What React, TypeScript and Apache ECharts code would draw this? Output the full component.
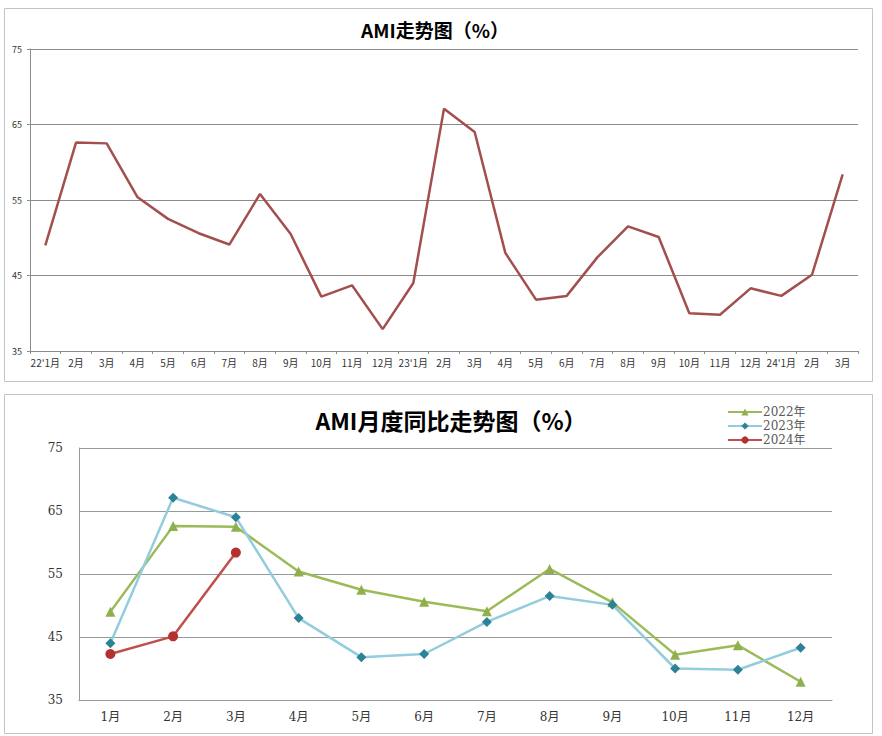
import React, { useEffect, useRef } from "react";
import * as echarts from "echarts";

const topTitle = "AMI走势图（%）";
const bottomTitle = "AMI月度同比走势图（%）";

const topCategories = [
  "22'1月", "2月", "3月", "4月", "5月", "6月", "7月", "8月", "9月", "10月", "11月", "12月",
  "23'1月", "2月", "3月", "4月", "5月", "6月", "7月", "8月", "9月", "10月", "11月", "12月",
  "24'1月", "2月", "3月",
];
const monthCategories = ["1月", "2月", "3月", "4月", "5月", "6月", "7月", "8月", "9月", "10月", "11月", "12月"];

const seriesNames = ["2022年", "2023年", "2024年"];
const v2022 = [49.0, 62.6, 62.5, 55.4, 52.5, 50.6, 49.1, 55.8, 50.5, 42.2, 43.7, 37.9];
const v2023 = [44.0, 67.1, 64.0, 48.0, 41.8, 42.3, 47.4, 51.5, 50.1, 40.0, 39.8, 43.3];
const v2024 = [42.3, 45.1, 58.4];
const topValues = [...v2022, ...v2023, ...v2024];

const yMin = 35;
const yMax = 75;
const yStep = 10;

export default function App() {
  const ref = useRef<HTMLDivElement>(null);
  useEffect(() => {
    if (!ref.current) return;
    const chart = echarts.init(ref.current, null, { renderer: "svg" });
    const sans = "'Noto Sans CJK SC', 'DejaVu Sans', sans-serif";
    const serif = "'DejaVu Serif', 'Liberation Serif', 'Noto Sans CJK SC', serif";
    const gridColor = "#8c8c8c";
    chart.setOption({
      animation: false,
      backgroundColor: "#ffffff",
      graphic: [
        { type: "rect", shape: { x: 4.5, y: 8.5, width: 868, height: 373 }, style: { fill: "none", stroke: "#c4c4c4", lineWidth: 1 } },
        { type: "rect", shape: { x: 4.5, y: 394.5, width: 868, height: 339 }, style: { fill: "none", stroke: "#c4c4c4", lineWidth: 1 } },
        { type: "text", x: 435, y: 29, style: { text: topTitle, align: "center", verticalAlign: "middle", fontSize: 19, fontWeight: "bold", fontFamily: sans, fill: "#000" } },
        { type: "text", x: 451, y: 420, style: { text: bottomTitle, align: "center", verticalAlign: "middle", fontSize: 23, fontWeight: "bold", fontFamily: sans, fill: "#000" } },
      ],
      legend: {
        orient: "vertical",
        left: 722,
        top: 401,
        itemWidth: 34,
        itemHeight: 9,
        itemGap: 2,
        data: seriesNames,
        textStyle: { fontSize: 12, fontFamily: serif, color: "#595959", padding: [0, 0, 0, -4] },
      },
      grid: [
        { left: 30, right: 24, top: 49, height: 302 },
        { left: 79, right: 50, top: 448, height: 252 },
      ],
      xAxis: [
        {
          gridIndex: 0,
          type: "category",
          data: topCategories,
          boundaryGap: true,
          axisLine: { lineStyle: { color: gridColor } },
          axisTick: { show: true, length: 3, lineStyle: { color: gridColor } },
          axisLabel: { interval: 0, fontSize: 10, fontFamily: sans, color: "#333", margin: 6 },
        },
        {
          gridIndex: 1,
          type: "category",
          data: monthCategories,
          boundaryGap: true,
          axisLine: { lineStyle: { color: "#999" } },
          axisTick: { show: false },
          axisLabel: { interval: 0, fontSize: 12, fontFamily: serif, color: "#333", margin: 11 },
        },
      ],
      yAxis: [
        {
          gridIndex: 0,
          type: "value",
          min: yMin,
          max: yMax,
          interval: yStep,
          axisLine: { show: true, lineStyle: { color: gridColor } },
          axisTick: { show: true, length: 3, lineStyle: { color: gridColor } },
          axisLabel: { fontSize: 9, fontFamily: sans, color: "#333", margin: 8 },
          splitLine: { lineStyle: { color: gridColor, width: 1 } },
        },
        {
          gridIndex: 1,
          type: "value",
          min: yMin,
          max: yMax,
          interval: yStep,
          axisLine: { show: true, lineStyle: { color: "#999" } },
          axisTick: { show: false },
          axisLabel: { fontSize: 12, fontFamily: serif, color: "#333", margin: 16 },
          splitLine: { lineStyle: { color: "#999", width: 1 } },
        },
      ],
      series: [
        {
          name: "AMI",
          type: "line",
          xAxisIndex: 0,
          yAxisIndex: 0,
          data: topValues,
          showSymbol: false,
          symbol: "none",
          lineStyle: { color: "#A24F4D", width: 2.5 },
          itemStyle: { color: "#A24F4D" },
        },
        {
          name: seriesNames[0],
          type: "line",
          xAxisIndex: 1,
          yAxisIndex: 1,
          data: v2022,
          symbol: "triangle",
          symbolSize: 10,
          lineStyle: { color: "#9BBB59", width: 2.5 },
          itemStyle: { color: "#8FB04C" },
        },
        {
          name: seriesNames[1],
          type: "line",
          xAxisIndex: 1,
          yAxisIndex: 1,
          data: v2023,
          symbol: "diamond",
          symbolSize: 10,
          lineStyle: { color: "#93CDDD", width: 2.5 },
          itemStyle: { color: "#2E8297" },
        },
        {
          name: seriesNames[2],
          type: "line",
          xAxisIndex: 1,
          yAxisIndex: 1,
          data: v2024,
          symbol: "circle",
          symbolSize: 10,
          lineStyle: { color: "#C0504D", width: 2.5 },
          itemStyle: { color: "#B3312E" },
        },
      ],
    });
    return () => chart.dispose();
  }, []);
  return (
    <div style={{ position: "absolute", left: 0, top: 0, width: 882, height: 736, background: "#fff" }}>
      <div ref={ref} style={{ width: 882, height: 736 }} />
    </div>
  );
}
